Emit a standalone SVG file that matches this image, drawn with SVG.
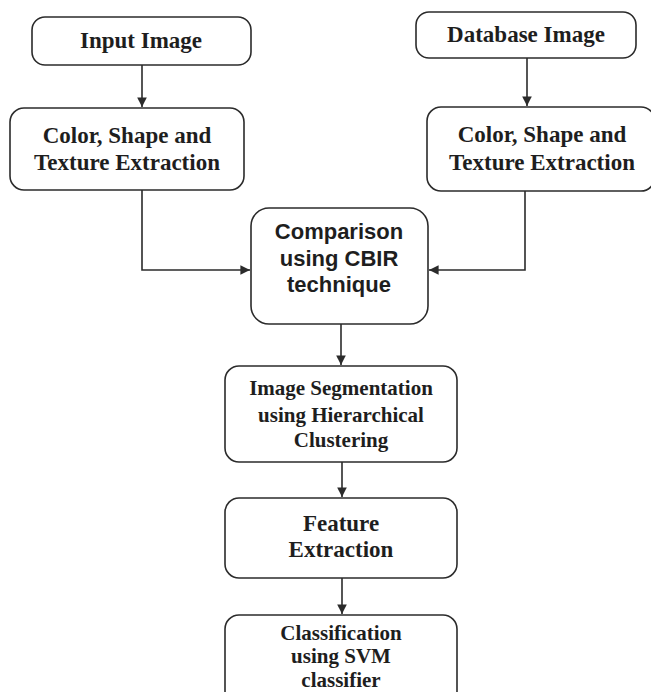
<svg xmlns="http://www.w3.org/2000/svg" width="651" height="692" viewBox="0 0 651 692">
<style>
.box{fill:#fff;stroke:#2b2b2b;stroke-width:1.6}
.t{font-family:"Liberation Serif","Times New Roman",serif;font-weight:bold;fill:#1e1e1e;text-anchor:middle}
.s{font-family:"Liberation Sans",Arial,sans-serif;font-weight:bold;fill:#1e1e1e;text-anchor:middle;font-size:22px}
.c{fill:none;stroke:#2b2b2b;stroke-width:1.6}
</style>
<defs>
<marker id="ah" viewBox="0 0 10 10" refX="10" refY="5" markerWidth="6" markerHeight="6" markerUnits="strokeWidth" orient="auto">
<path d="M0,0 L10,5 L0,10 z" fill="#2b2b2b"/>
</marker>
</defs>
<rect width="651" height="692" fill="#fff"/>
<g id="connectors">
<path class="c" d="M142,65 V107" marker-end="url(#ah)"/>
<path class="c" d="M527,58 V106" marker-end="url(#ah)"/>
<path class="c" d="M142,190 V270 H250" marker-end="url(#ah)"/>
<path class="c" d="M525,191 V270 H429" marker-end="url(#ah)"/>
<path class="c" d="M341,324 V365" marker-end="url(#ah)"/>
<path class="c" d="M342,462 V497" marker-end="url(#ah)"/>
<path class="c" d="M342,578 V614" marker-end="url(#ah)"/>
</g>
<g id="input-image">
<rect class="box" x="32" y="17" width="219" height="48" rx="13"/>
<text class="t" x="141" y="48" font-size="23">Input Image</text>
</g>
<g id="database-image">
<rect class="box" x="416" y="12" width="220" height="46" rx="13"/>
<text class="t" x="526" y="42" font-size="23">Database Image</text>
</g>
<g id="extract-left">
<rect class="box" x="10" y="108" width="234" height="82" rx="14"/>
<text class="t" x="127" y="143" font-size="23">Color, Shape and</text>
<text class="t" x="127" y="170" font-size="23">Texture Extraction</text>
</g>
<g id="extract-right">
<rect class="box" x="427" y="107" width="228" height="84" rx="14"/>
<text class="t" x="542" y="142" font-size="23">Color, Shape and</text>
<text class="t" x="542" y="170" font-size="23">Texture Extraction</text>
</g>
<g id="comparison">
<rect class="box" x="251" y="208" width="177" height="116" rx="18"/>
<text class="s" x="339" y="239">Comparison</text>
<text class="s" x="339" y="266">using CBIR</text>
<text class="s" x="339" y="292">technique</text>
</g>
<g id="segmentation">
<rect class="box" x="225" y="366" width="232" height="96" rx="14"/>
<text class="t" x="341" y="395" font-size="21">Image Segmentation</text>
<text class="t" x="341" y="422" font-size="21">using Hierarchical</text>
<text class="t" x="341" y="447" font-size="21">Clustering</text>
</g>
<g id="feature-extraction">
<rect class="box" x="225" y="498" width="232" height="80" rx="14"/>
<text class="t" x="341" y="531" font-size="23">Feature</text>
<text class="t" x="341" y="557" font-size="23">Extraction</text>
</g>
<g id="classification">
<rect class="box" x="225" y="615" width="232" height="90" rx="14"/>
<text class="t" x="341" y="640" font-size="21">Classification</text>
<text class="t" x="341" y="663" font-size="21">using SVM</text>
<text class="t" x="341" y="687" font-size="21">classifier</text>
</g>
</svg>
